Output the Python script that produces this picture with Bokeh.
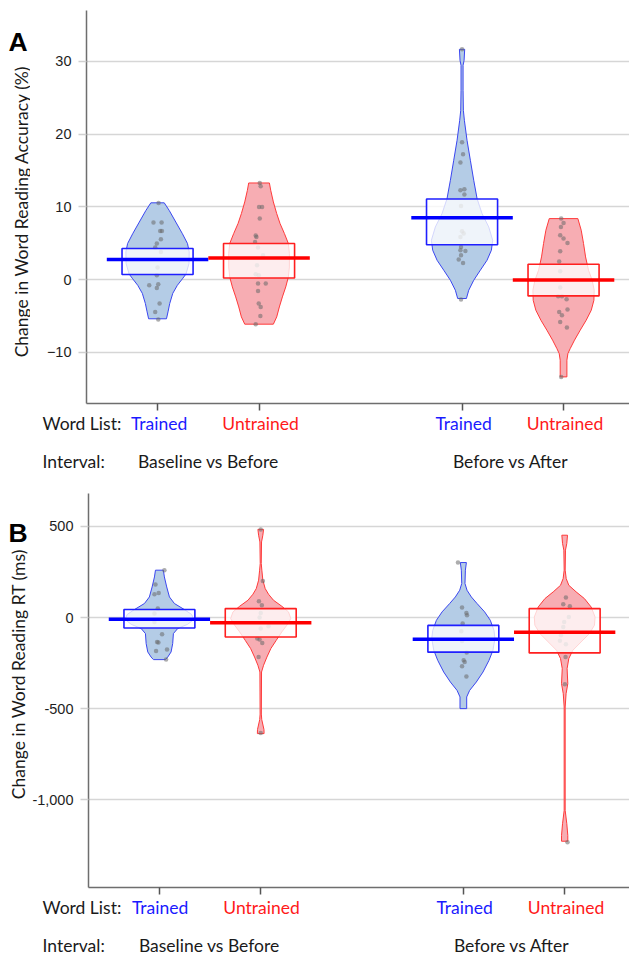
import math
from bokeh.plotting import figure
from bokeh.models import FixedTicker, NumeralTickFormatter
from bokeh.core.properties import value
from bokeh.layouts import column, row
from bokeh.embed import file_html
from bokeh.resources import INLINE

# ---------------- shared categories ----------------
positions = [1, 2, 4, 5]
word_lists = ["Trained", "Untrained", "Trained", "Untrained"]
intervals = ["Baseline vs Before", "Before vs After"]
interval_centers = [1.5, 4.48]

# ---------------- Panel A: accuracy change (%) ----------------
acc_ticks = [-10, 0, 10, 20, 30]
acc_violin_y = [
    [10.55, 9.5, 7.9, 6.3, 4.95, 3.8, 2.2, 0.75, 0.1, -0.8, -1.9, -3.3, -4.45, -5.4],
    [13.28, 12.27, 10.67, 9.07, 7.7, 6.32, 4.95, 3.57, 1.73, 0.36, -1.02, -2.39, -3.77, -5.14, -6.14],
    [31.66, 30.14, 29.46, 26.02, 23.27, 21.9, 19.15, 16.4, 13.65, 11.13, 9.07, 7.23, 5.4, 4.03, 2.65, 1.28, -0.1, -1.47, -2.61],
    [8.38, 6.78, 4.95, 3.11, 1.28, -0.1, -1.47, -2.85, -4.22, -5.6, -6.97, -8.34, -9.49, -10.17, -11.1, -13.39],
]
acc_violin_hw = [
    [0.066, 0.115, 0.18, 0.245, 0.295, 0.312, 0.31, 0.28, 0.245, 0.195, 0.15, 0.12, 0.103, 0.088],
    [0.102, 0.115, 0.141, 0.174, 0.207, 0.25, 0.289, 0.299, 0.299, 0.289, 0.263, 0.23, 0.2, 0.174, 0.141],
    [0.026, 0.02, 0.01, 0.01, 0.013, 0.023, 0.049, 0.082, 0.115, 0.148, 0.197, 0.263, 0.302, 0.289, 0.246, 0.18, 0.115, 0.066, 0.043],
    [0.141, 0.174, 0.197, 0.217, 0.246, 0.282, 0.302, 0.299, 0.273, 0.223, 0.164, 0.108, 0.066, 0.043, 0.033, 0.033],
]
acc_points_y = [
    [10.53, 7.83, 7.83, 6.68, 6.68, 5.54, 4.95, 4.4, 3.79, 1.65, 0.59, -0.78, -0.65, -1.15, -3.3, -4.45, -5.5],
    [13.28, 12.82, 9.98, 9.98, 8.38, 6.05, 5.86, 5.17, 4.4, 3.34, 1.97, 0.73, 0.59, -0.55, -0.55, -1.57, -3.3, -3.77, -5.0, -6.14],
    [31.66, 18.87, 17.22, 16.08, 12.27, 12.41, 11.68, 10.12, 6.64, 6.32, 5.86, 4.48, 4.03, 3.93, 3.34, 2.75, 2.28, -2.75],
    [8.38, 7.78, 7.23, 6.09, 5.64, 5.03, 3.89, 2.47, 1.14, -1.1, -2.3, -2.3, -2.71, -4.12, -4.45, -4.91, -5.83, -6.6, -13.39],
]
acc_points_dx = [
    [0.01, -0.04, 0.04, 0.026, 0.043, 0.033, -0.007, -0.023, 0.033, 0.0, -0.007, -0.082, 0.007, -0.007, 0.02, -0.023, 0.007],
    [0.007, 0.016, 0.0, 0.03, 0.007, -0.033, -0.026, -0.039, -0.01, 0.039, -0.02, -0.033, -0.003, -0.01, 0.066, -0.01, -0.003, 0.016, 0.013, -0.033],
    [0.0, 0.0, 0.01, -0.016, -0.016, 0.023, 0.023, -0.01, 0.0, 0.016, -0.016, -0.01, -0.016, 0.033, -0.01, -0.033, 0.01, -0.01],
    [-0.023, 0.0, -0.026, -0.033, 0.0, 0.039, -0.033, -0.043, -0.033, -0.033, -0.053, -0.016, 0.03, 0.039, -0.043, -0.016, -0.033, 0.033, -0.023],
]
acc_box_lo = [0.69, 0.22, 4.78, -2.25]
acc_box_hi = [4.26, 4.95, 11.08, 2.1]
acc_means = [2.75, 2.97, 8.49, -0.05]

# ---------------- Panel B: reaction time change (ms) ----------------
rt_ticks = [-1000, -500, 0, 500]
rt_violin_y = [
    [260, 223, 168, 113, 77, 44, 16.5, -11, -37, -60, -88, -143, -189, -217, -231],
    [484, 452, 415, 297, 260, 205, 159, 128, 95, 62, 31, -5.5, -42, -79, -125, -170, -217, -262, -299, -530, -560, -590, -615, -637],
    [302, 260, 187, 150, 113, 77, 31, -15, -70, -115, -180, -235, -299, -354, -400, -436, -500],
    [452, 407, 370, 260, 214, 177, 141, 104, 58, 3, -42, -88, -134, -180, -225, -280, -363, -418, -491, -1059, -1132, -1196, -1228],
]
rt_violin_hw = [
    [0.039, 0.049, 0.072, 0.099, 0.148, 0.246, 0.319, 0.338, 0.279, 0.181, 0.138, 0.131, 0.115, 0.082, 0.059],
    [0.028, 0.021, 0.008, 0.005, 0.011, 0.021, 0.044, 0.077, 0.126, 0.208, 0.274, 0.297, 0.258, 0.208, 0.153, 0.1, 0.061, 0.028, 0.008, 0.006, 0.01, 0.022, 0.032, 0.033],
    [0.03, 0.02, 0.016, 0.036, 0.079, 0.135, 0.21, 0.266, 0.302, 0.312, 0.292, 0.253, 0.194, 0.128, 0.062, 0.033, 0.033],
    [0.028, 0.021, 0.008, 0.005, 0.015, 0.041, 0.113, 0.195, 0.261, 0.3, 0.294, 0.244, 0.162, 0.08, 0.041, 0.024, 0.031, 0.014, 0.005, 0.005, 0.021, 0.031, 0.031],
]
rt_points_y = [
    [260, 181, 128, 135, 49, 22, -24, -92, -134, -137, -183, -176, -231],
    [484, 201, 90, 68, 25, 0, -48, -60, -115, -121, -140, -217, -634],
    [302, 55, 25, 13, -33, -75, -129, -192, -235, -244, -268, -323],
    [110, 73, 62, 3, -24, -52, -97, -128, -147, -217, -366, -1233],
]
rt_points_dx = [
    [0.049, -0.039, -0.049, -0.007, -0.016, -0.049, -0.049, 0.026, -0.023, -0.01, -0.033, 0.075, 0.066],
    [0.0, 0.021, -0.018, 0.011, 0.0, -0.011, 0.077, 0.0, -0.034, -0.011, 0.015, -0.021, 0.0],
    [-0.053, -0.013, 0.03, 0.036, -0.007, -0.02, -0.013, 0.033, 0.003, 0.013, -0.013, 0.03],
    [0.012, -0.014, 0.051, 0.041, -0.005, -0.014, -0.037, -0.047, 0.012, 0.009, 0.002, 0.028],
]
rt_box_lo = [-57, -107, -190, -194]
rt_box_hi = [44, 49, -43, 49]
rt_means = [-9, -28, -119, -81]

# ---------------- styles ----------------
style = {
    "Trained": dict(fill="#b4cce6", vline="#3a46f0", box="#1f1fff", mean="#0000ff", text="#1a1aff"),
    "Untrained": dict(fill="#f7adb3", vline="#ff3a3a", box="#ff1f1f", mean="#ff0000", text="#ff1a1a"),
}
LABEL_FONT = "Lato"
TICK_FONT = "Liberation Sans"
BOX_HALF = 0.35
MEAN_HALF = 0.5
X_LO = 0.3
PX_PER_UNIT = 101.5


def build_panel(width, height, left_border, top_border, bottom_border, yr, ticks,
                vy, vhw, py, pdx, blo, bhi, means):
    x_hi = X_LO + (width - left_border) / PX_PER_UNIT
    p = figure(width=width, height=height, x_range=(X_LO, x_hi), y_range=yr,
               output_backend="svg", toolbar_location=None,
               min_border_left=left_border, min_border_right=0,
               min_border_top=top_border, min_border_bottom=bottom_border)
    p.outline_line_color = None
    p.background_fill_color = "white"
    p.border_fill_color = "white"
    p.xgrid.visible = False
    p.ygrid.grid_line_color = "#d6d6d6"
    p.ygrid.grid_line_width = 1.5

    p.yaxis.ticker = FixedTicker(ticks=ticks)
    p.yaxis.axis_line_color = "#6e6e6e"
    p.yaxis.axis_line_width = 1.5
    p.yaxis.major_tick_out = 8
    p.yaxis.major_tick_in = 0
    p.yaxis.minor_tick_line_color = None
    p.yaxis.major_tick_line_color = "#d0d0d0"
    p.yaxis.major_tick_line_width = 1.5
    p.yaxis.major_label_text_font = TICK_FONT
    p.yaxis.major_label_text_font_size = "14.5px"
    p.yaxis.major_label_text_color = "#1e1e1e"
    p.yaxis.major_label_standoff = 7

    p.xaxis.ticker = FixedTicker(ticks=positions)
    p.xaxis.axis_line_color = "#6e6e6e"
    p.xaxis.axis_line_width = 1.5
    p.xaxis.major_tick_out = 7
    p.xaxis.major_tick_in = 0
    p.xaxis.minor_tick_line_color = None
    p.xaxis.major_tick_line_color = "#555555"
    p.xaxis.major_tick_line_width = 1.5
    p.xaxis.major_label_text_alpha = 0
    p.xaxis.major_label_text_font_size = "0px"
    p.xaxis.major_label_standoff = 0

    for i, c in enumerate(positions):
        s = style[word_lists[i]]
        ys = list(vy[i]) + list(reversed(vy[i]))
        xs = [c - w for w in vhw[i]] + [c + w for w in reversed(vhw[i])]
        p.patch(xs, ys, fill_color=s["fill"], fill_alpha=1.0,
                line_color=s["vline"], line_width=1)
        p.scatter([c + d for d in pdx[i]], py[i], size=4.5,
                  fill_color="#6a6a6a", line_color=None, fill_alpha=0.55)
        p.quad(left=[c - BOX_HALF], right=[c + BOX_HALF], bottom=[blo[i]], top=[bhi[i]],
               fill_color="white", fill_alpha=0.78, line_color=s["box"], line_width=1.6)
        p.segment(x0=[c - MEAN_HALF], x1=[c + MEAN_HALF], y0=[means[i]], y1=[means[i]],
                  line_color=s["mean"], line_width=3.5)
    return p


def text_fig(width, height, x_range):
    f = figure(width=width, height=height, x_range=x_range, y_range=(0, height),
               output_backend="svg", toolbar_location=None,
               x_axis_location=None, y_axis_location=None,
               min_border_left=0, min_border_right=0, min_border_top=0, min_border_bottom=0)
    f.outline_line_color = None
    f.background_fill_color = "white"
    f.border_fill_color = "white"
    f.grid.visible = False
    return f


def put_text(f, xs, ys, texts, colors, size, align, baseline="middle", angle=0.0,
             font=LABEL_FONT, font_style="normal"):
    f.text(x=xs, y=ys, text=texts, text_color=colors, text_font=value(font),
           text_font_size=value(size), text_align=align, text_baseline=baseline,
           angle=angle, text_font_style=font_style)


def left_column(height, top, letter, letter_baseline, ylabel, ylabel_x, ylabel_y, width):
    f = text_fig(width, height, (0, width))
    bottom = top + height
    put_text(f, [8], [bottom - letter_baseline], [letter], ["black"], "26.5px", "left",
             baseline="alphabetic", font="Liberation Sans", font_style="bold")
    put_text(f, [ylabel_x], [bottom - ylabel_y], [ylabel], ["#1a1a1a"], "17.5px", "center",
             angle=math.pi / 2)
    return f


def bottom_rows(height, top, frame_left_px, y_word, y_interval):
    x0 = X_LO - frame_left_px / PX_PER_UNIT
    f = text_fig(629, height, (x0, x0 + 629 / PX_PER_UNIT))
    bottom = top + height
    lead = X_LO - (frame_left_px - 42) / PX_PER_UNIT
    put_text(f, [lead, lead], [bottom - y_word, bottom - y_interval],
             ["Word List:", "Interval:"], ["#1a1a1a", "#1a1a1a"], "17.5px", "left")
    put_text(f, [c + 0.015 for c in positions], [bottom - y_word] * len(positions),
             word_lists, [style[w]["text"] for w in word_lists], "17.5px", "center")
    put_text(f, interval_centers, [bottom - y_interval] * len(intervals),
             intervals, ["#1a1a1a"] * len(intervals), "17.5px", "center")
    return f


# Panel A: page rows 0..413 (plot) and 413..478 (labels)
LEFT_A = 30
mainA = build_panel(629 - LEFT_A, 413, 56, 10, 10, (-17.05, 37.0), acc_ticks,
                    acc_violin_y, acc_violin_hw, acc_points_y, acc_points_dx,
                    acc_box_lo, acc_box_hi, acc_means)
leftA = left_column(413, 0, "A", 33.3, "Change in Word Reading Accuracy (%)", 20.5, 211, LEFT_A)
bottomA = bottom_rows(65, 413, LEFT_A + 56, 422.5, 461)

# Panel B: page rows 478..897 (plot) and 897..955 (labels)
LEFT_B = 29
mainB = build_panel(629 - LEFT_B, 419, 58, 15, 10, (-1482, 681), rt_ticks,
                    rt_violin_y, rt_violin_hw, rt_points_y, rt_points_dx,
                    rt_box_lo, rt_box_hi, rt_means)
mainB.yaxis.formatter = NumeralTickFormatter(format="0,0")
leftB = left_column(419, 478, "B", 520, "Change in Word Reading RT (ms)", 17.5, 670, LEFT_B)
bottomB = bottom_rows(58, 897, LEFT_B + 58, 906.5, 944.5)

layout = column(row(leftA, mainA), bottomA, row(leftB, mainB), bottomB)
open("out.html", "w").write(file_html(layout, INLINE))
